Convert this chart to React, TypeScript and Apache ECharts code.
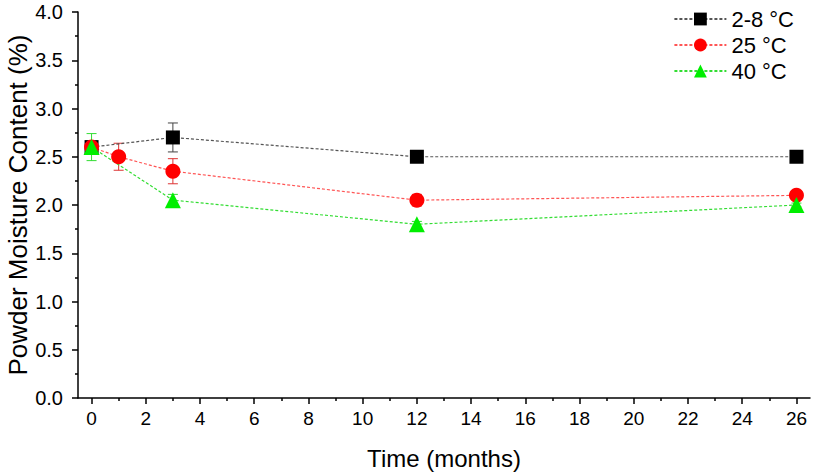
import React, { useEffect, useRef } from "react";
import * as echarts from "echarts";

const seriesNames = ["2-8 °C", "25 °C", "40 °C"];
const colors = ["#000000", "#ff0000", "#00ee00"];
const lineColors = ["#555555", "#ff5555", "#33dd33"];
const errColors = ["#444444", "#dd3333", "#33dd33"];

const timesCold = [0, 3, 12, 26];
const valuesCold = [2.6, 2.7, 2.5, 2.5];
const errCold = [0.05, 0.15, 0.02, 0.02];

const times25 = [0, 1, 3, 12, 26];
const values25 = [2.6, 2.5, 2.35, 2.05, 2.1];
const err25 = [0.05, 0.14, 0.13, 0.06, 0.02];

const times40 = [0, 3, 12, 26];
const values40 = [2.6, 2.05, 1.8, 2.0];
const err40 = [0.14, 0.06, 0.03, 0.02];

const xMajorTicks = [0, 2, 4, 6, 8, 10, 12, 14, 16, 18, 20, 22, 24, 26];
const xMinorTicks = [1, 3, 5, 7, 9, 11, 13, 15, 17, 19, 21, 23, 25];

const FONT = "Liberation Sans, Arial, sans-serif";

function pairs(xs: number[], ys: number[]) {
  return xs.map((x, i) => [x, ys[i]]);
}
function errData(xs: number[], ys: number[], es: number[]) {
  return xs.map((x, i) => [x, ys[i] - es[i], ys[i] + es[i]]);
}

function errSeries(data: number[][], color: string) {
  return {
    type: "custom",
    silent: true,
    data,
    encode: { x: 0, y: [1, 2] },
    renderItem: (params: any, api: any) => {
      const x = api.value(0);
      const lo = api.coord([x, api.value(1)]);
      const hi = api.coord([x, api.value(2)]);
      const w = 5;
      const style = { stroke: color, lineWidth: 1 };
      return {
        type: "group",
        children: [
          { type: "line", shape: { x1: lo[0], y1: lo[1], x2: hi[0], y2: hi[1] }, style },
          { type: "line", shape: { x1: lo[0] - w, y1: lo[1], x2: lo[0] + w, y2: lo[1] }, style },
          { type: "line", shape: { x1: hi[0] - w, y1: hi[1], x2: hi[0] + w, y2: hi[1] }, style },
        ],
      };
    },
    z: 1,
  };
}

function lineSeries(name: string, data: number[][], color: string, lineColor: string, symbol: string, size: number) {
  return {
    name,
    type: "line",
    data,
    symbol,
    symbolSize: size,
    showAllSymbol: true,
    itemStyle: { color, borderWidth: 0 },
    lineStyle: { color: lineColor, width: 1.2, type: [3, 2] },
    z: 3,
  };
}

export default function App() {
  const ref = useRef<HTMLDivElement>(null);
  useEffect(() => {
    const chart = echarts.init(ref.current!, null, { renderer: "svg" });
    const axisLine = { show: true, onZero: false, lineStyle: { color: "#000", width: 1.5 } };
    chart.setOption({
      animation: false,
      backgroundColor: "#fff",
      grid: { left: 78, right: 9, top: 12, bottom: 78, outerBoundsMode: "none", containLabel: false },
      legend: {
        orient: "vertical",
        right: 20,
        top: 3,
        itemWidth: 52,
        itemHeight: 16,
        itemGap: 4,
        textStyle: { fontFamily: FONT, fontSize: 22, color: "#000" },
        data: seriesNames,
      },
      xAxis: [
        {
          type: "value",
          min: -0.5,
          max: 26.5,
          position: "bottom",
          name: "Time (months)",
          nameLocation: "middle",
          nameGap: 48,
          nameTextStyle: { fontFamily: FONT, fontSize: 24, color: "#000" },
          axisLine,
          splitLine: { show: false },
          axisTick: { show: true, inside: false, length: 6, lineStyle: { color: "#000", width: 1.5 }, customValues: xMajorTicks },
          axisLabel: { fontFamily: FONT, fontSize: 19, color: "#000", margin: 11, customValues: xMajorTicks },
        },
        {
          type: "value",
          min: -0.5,
          max: 26.5,
          position: "bottom",
          axisLine: { show: false, onZero: false },
          splitLine: { show: false },
          axisTick: { show: true, inside: false, length: 3, lineStyle: { color: "#000", width: 1.5 }, customValues: xMinorTicks },
          axisLabel: { show: false },
        },
      ],
      yAxis: {
        type: "value",
        min: 0,
        max: 4,
        interval: 0.5,
        name: "Powder Moisture Content (%)",
        nameLocation: "middle",
        nameGap: 47,
        nameMoveOverlap: false,
        nameTextStyle: { fontFamily: FONT, fontSize: 26, color: "#000" },
        axisLine,
        splitLine: { show: false },
        axisTick: { show: true, inside: false, length: 6, lineStyle: { color: "#000", width: 1.5 } },
        minorTick: { show: true, splitNumber: 2, length: 3, lineStyle: { color: "#000", width: 1.5 } },
        axisLabel: { fontFamily: FONT, fontSize: 20, color: "#000", margin: 15, formatter: (v: number) => v.toFixed(1) },
      },
      series: [
        errSeries(errData(timesCold, valuesCold, errCold), errColors[0]),
        lineSeries(seriesNames[0], pairs(timesCold, valuesCold), colors[0], lineColors[0], "rect", 14),
        errSeries(errData(times25, values25, err25), errColors[1]),
        lineSeries(seriesNames[1], pairs(times25, values25), colors[1], lineColors[1], "circle", 15),
        errSeries(errData(times40, values40, err40), errColors[2]),
        lineSeries(seriesNames[2], pairs(times40, values40), colors[2], lineColors[2], "triangle", 16),
      ],
    });
    return () => chart.dispose();
  }, []);
  return <div ref={ref} style={{ width: 819, height: 476, position: "absolute", left: 0, top: 0 }} />;
}
